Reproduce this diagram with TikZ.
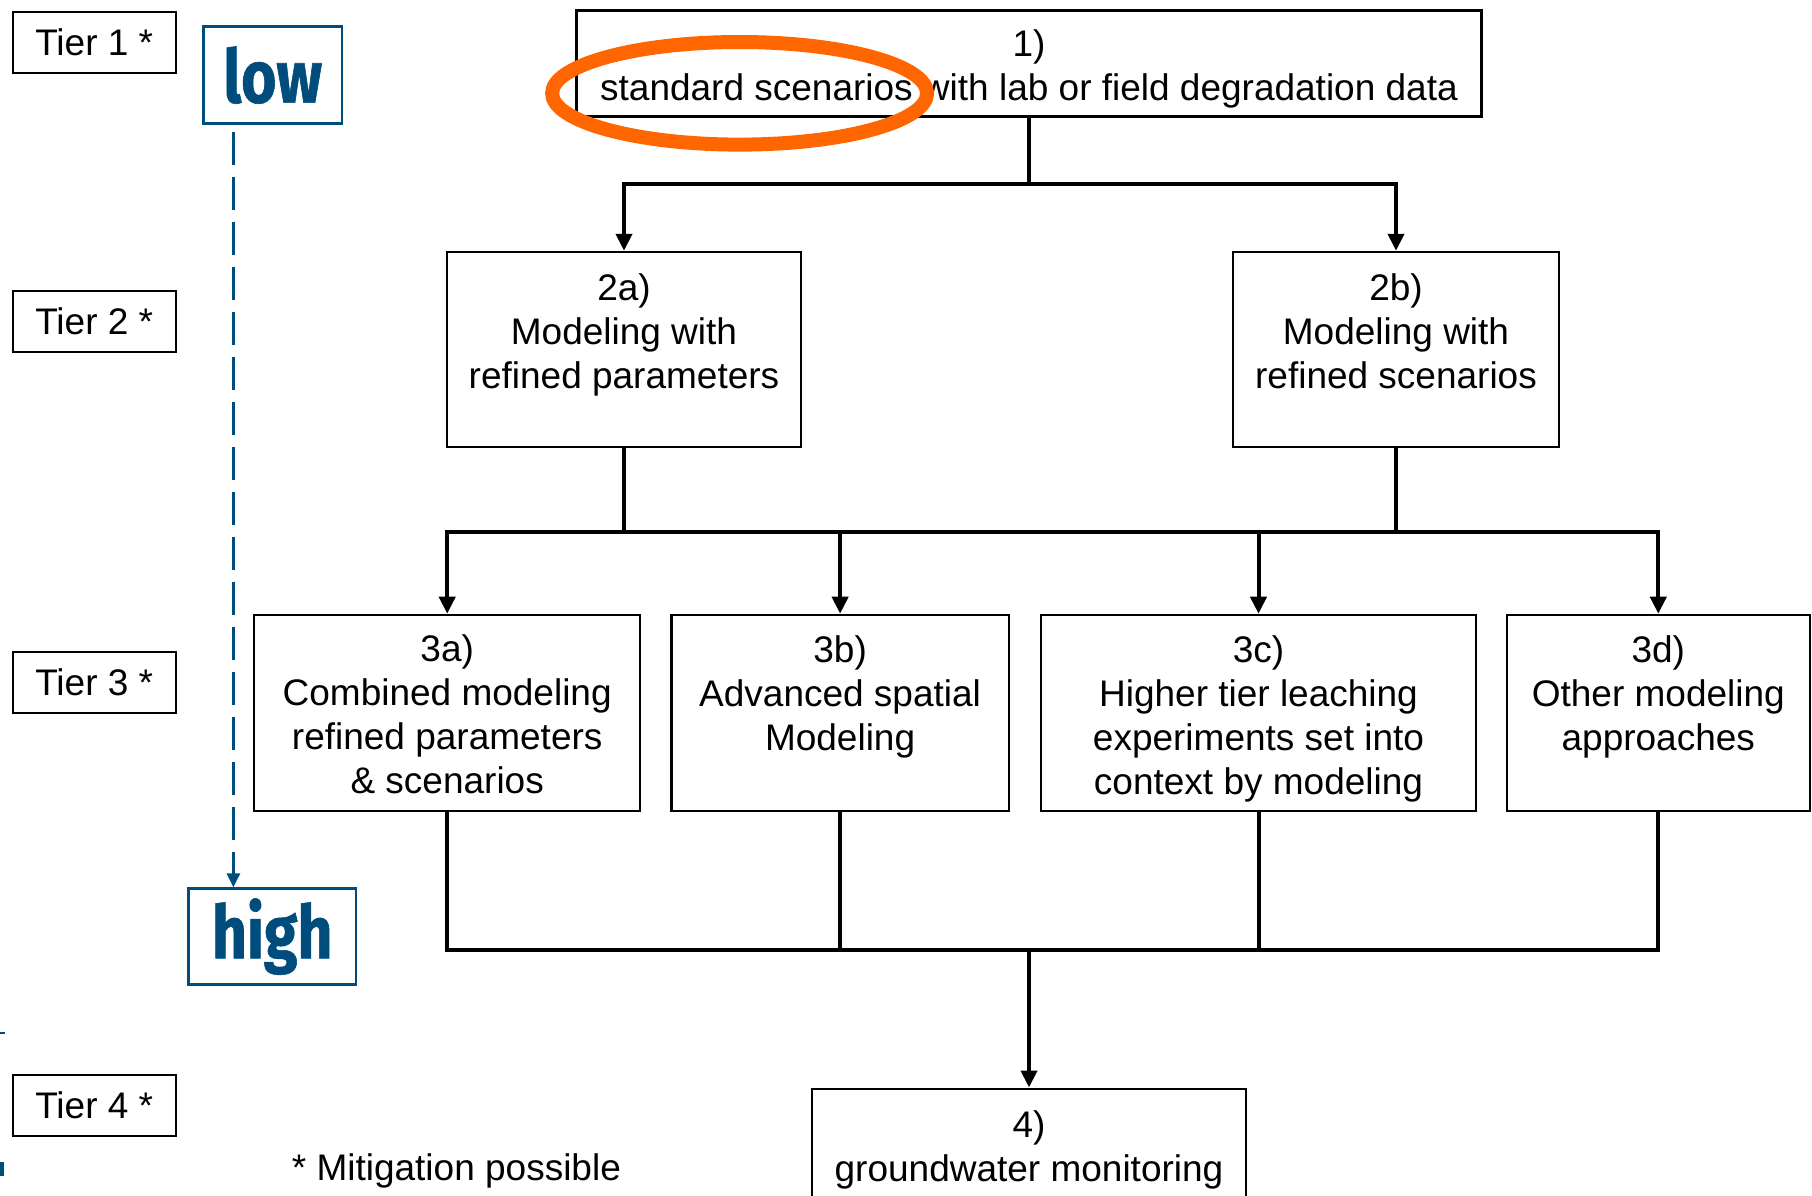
\documentclass[tikz,border=0pt]{standalone}
\usepackage{fontspec}
\setmainfont{Liberation Sans}
\newfontfamily\lhfont[FakeStretch=0.82,FakeBold=0.8]{Fira Sans}
\usetikzlibrary{arrows.meta}
\definecolor{tblue}{RGB}{0,76,125}
\definecolor{torange}{RGB}{255,102,0}
\begin{document}
\begin{tikzpicture}[x=1pt,y=-1pt,
  box/.style={draw=black, line width=2.2pt, inner sep=0pt},
  tierbox/.style={draw=black, line width=1.6pt, inner sep=0pt, minimum width=163pt, minimum height=61pt, font=\fontsize{37}{44}\selectfont},
  txt/.style={align=center, inner sep=0pt, font=\fontsize{37}{44}\selectfont},
  conn/.style={line width=4pt},
  arr/.style={conn, -{Triangle[length=17pt,width=16pt]}},
  lhbox/.style={draw=tblue, line width=2.6pt, inner sep=0pt, text=tblue, font=\lhfont\bfseries\fontsize{74}{80}\selectfont},
  bluedash/.style={draw=tblue, line width=3pt, dash pattern=on 33pt off 12pt, -{Triangle[length=14pt,width=13pt]}}
]
\useasboundingbox (0,0) rectangle (1812,1195);
\clip (0,0) rectangle (1812,1195);

% tier labels
\node[tierbox] (tier1) at (94.2,42.2) {Tier 1 *};
\node[tierbox] (tier2) at (94.2,321.3) {Tier 2 *};
\node[tierbox] (tier3) at (94.2,682.3) {Tier 3 *};
\node[tierbox] (tier4) at (94.2,1105.3) {Tier 4 *};

% low / high
\node[lhbox, minimum width=138.6pt, minimum height=97pt] (low) at (272.7,75.1) {low};
\node[lhbox, minimum width=167.6pt, minimum height=96pt] (high) at (272.2,936.6) {high};
\draw[bluedash] ([xshift=-39.3pt,yshift=-7pt]low.south) -- ([xshift=-38.8pt]high.north);

\node[txt] (mitig) at (456.4,1171) {* Mitigation possible};

% boxes
\node[box, minimum width=905pt, minimum height=106pt] (b1) at (1029,63.5) {};
\node[box, minimum width=353.6pt, minimum height=195.3pt] (b2a) at (624,349.5) {};
\node[box, minimum width=326pt, minimum height=195.3pt] (b2b) at (1396,349.5) {};
\node[box, minimum width=386pt, minimum height=196.4pt] (b3a) at (447.2,713) {};
\node[box, minimum width=337.4pt, minimum height=196.4pt] (b3b) at (840.1,713) {};
\node[box, minimum width=434.5pt, minimum height=196.4pt] (b3c) at (1258.5,713) {};
\node[box, minimum width=302.8pt, minimum height=196.4pt] (b3d) at (1658.3,713) {};
\node[box, minimum width=433.3pt, minimum height=150pt] (b4) at (1029,1163.6) {};

% texts
\node[txt] (t1) at (1029,68.5) {1)\\standard scenarios with lab or field degradation data};
\node[txt] (t2a) at (624,334.8) {2a)\\Modeling with\\refined parameters};
\node[txt] (t2b) at (1396,331) {2b)\\Modeling with\\refined scenarios};
\node[txt] (t3a) at (447.2,714.7) {3a)\\Combined modeling\\refined parameters\\\& scenarios};
\node[txt] (t3b) at (840.1,696.6) {3b)\\Advanced spatial\\Modeling};
\node[txt] (t3c) at (1258.5,718.5) {3c)\\Higher tier leaching\\experiments set into\\context by modeling};
\node[txt] (t3d) at (1658.3,696.6) {3d)\\Other modeling\\approaches};
\node[txt] (t4) at (1029,1149.7) {4)\\groundwater monitoring};

% connectors
\coordinate (j1) at (1029,183.7);
\draw[conn] (b1.south) -- (j1);
\draw[arr] (j1) -| (b2a.north);
\draw[arr] (j1) -| (b2b.north);

\coordinate (j2a) at (624,531.6);
\coordinate (j2b) at (1396,531.6);
\draw[conn] (b2a.south) -- (j2a);
\draw[conn] (b2b.south) -- (j2b);
\draw[conn] (j2a) -- (j2b);
\draw[arr] (j2a) -| (b3a.north);
\draw[arr] (j2a) -| (b3b.north);
\draw[arr] (j2b) -| (b3c.north);
\draw[arr] (j2b) -| (b3d.north);

\coordinate (j3) at (1029,950);
\draw[conn] (b3a.south) |- (j3);
\draw[conn] (b3b.south) |- (j3);
\draw[conn] (b3c.south) |- (j3);
\draw[conn] (b3d.south) |- (j3);
\draw[arr] (j3) -- (b4.north);

% highlight
\draw[torange, line width=14pt] (739.6,93.3) ellipse [x radius=187.5pt, y radius=51.3pt];

% edge remnants
\draw[tblue, line width=2.5pt] (0,1033) -- (5,1033);
\fill[tblue] (0,1162) rectangle (4,1176);
\end{tikzpicture}
\end{document}
